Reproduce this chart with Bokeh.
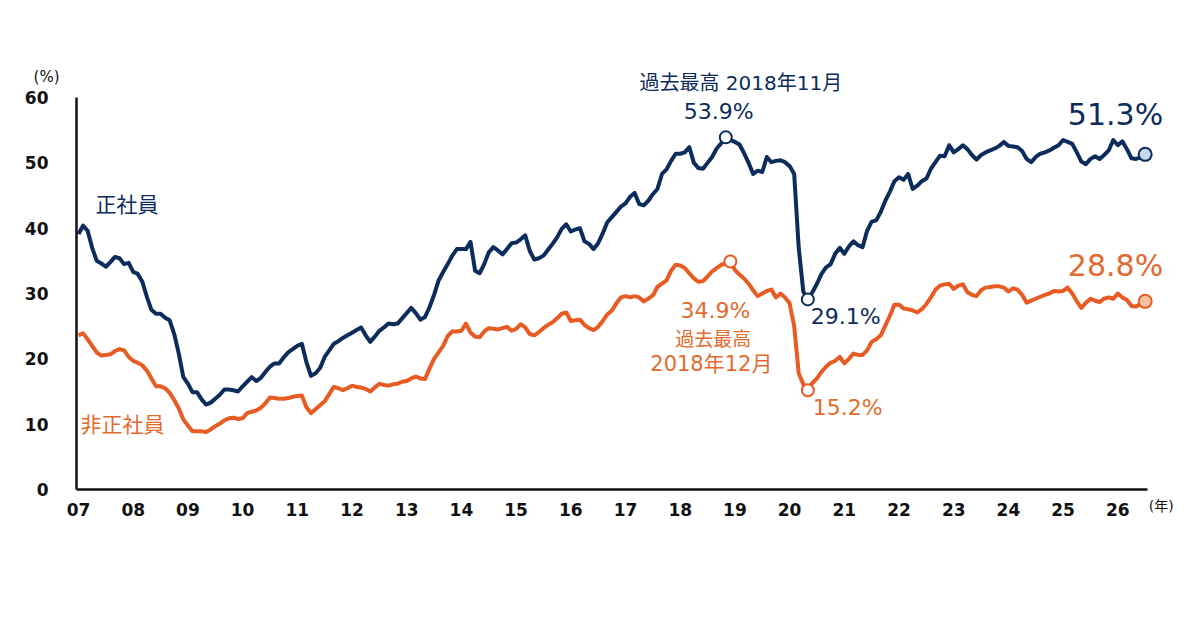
import numpy as np
from bokeh.plotting import figure
from bokeh.models import Range1d, FixedTicker, Label, ColumnDataSource
from bokeh.embed import file_html
from bokeh.resources import INLINE

# ---------------- data (monthly, 2007-01 .. 2026-07) ----------------
start_year = 2007
regular = [
    39.1, 40.4, 39.6, 37.0, 35.0, 34.6, 34.1, 34.8, 35.6, 35.4, 34.5, 34.7,  # 2007
    33.3, 33.0, 31.8, 29.5, 27.5, 26.9, 26.9, 26.3, 25.9, 23.8, 20.8, 17.2,  # 2008
    16.2, 14.9, 14.9, 13.8, 13.0, 13.3, 13.9, 14.5, 15.3, 15.3, 15.2, 15.0,  # 2009
    15.8, 16.5, 17.2, 16.6, 17.1, 18.0, 18.8, 19.3, 19.3, 20.2, 21.0, 21.5,  # 2010
    22.0, 22.3, 19.5, 17.4, 17.8, 18.6, 20.3, 21.3, 22.3, 22.7, 23.2, 23.6,  # 2011
    24.0, 24.4, 24.8, 23.6, 22.6, 23.4, 24.3, 24.8, 25.4, 25.3, 25.4, 26.2,  # 2012
    27.0, 27.8, 27.0, 26.0, 26.4, 27.9, 29.8, 32.0, 33.3, 34.5, 35.8, 36.8,  # 2013
    36.8, 36.8, 37.9, 33.5, 33.1, 34.5, 36.3, 37.1, 36.6, 36.0, 36.8, 37.7,  # 2014
    37.8, 38.3, 38.9, 36.5, 35.2, 35.4, 35.8, 36.7, 37.6, 38.6, 39.9, 40.6,  # 2015
    39.5, 39.8, 40.0, 38.0, 37.6, 36.8, 37.7, 39.2, 40.9, 41.7, 42.5, 43.3,  # 2016
    43.8, 44.8, 45.4, 43.7, 43.5, 44.2, 45.2, 46.0, 48.3, 49.0, 50.3, 51.4,  # 2017
    51.4, 51.6, 52.4, 50.0, 49.2, 49.1, 50.0, 50.9, 52.2, 53.0, 53.9, 53.5,  # 2018
    53.2, 52.8, 51.5, 50.0, 48.3, 48.8, 48.6, 50.9, 50.1, 50.3, 50.4, 50.1,  # 2019
    49.5, 48.3, 37.0, 30.3, 29.1, 30.2, 31.5, 33.0, 34.0, 34.5, 36.1, 37.0,  # 2020
    36.1, 37.2, 38.0, 37.4, 37.1, 39.6, 41.0, 41.2, 42.5, 44.2, 45.6, 47.2,  # 2021
    47.8, 47.4, 48.3, 46.0, 46.5, 47.2, 47.6, 49.1, 50.1, 51.1, 51.0, 52.7,  # 2022
    51.6, 52.1, 52.7, 52.1, 51.2, 50.5, 51.2, 51.6, 51.9, 52.2, 52.6, 53.2,  # 2023
    52.6, 52.5, 52.4, 51.8, 50.6, 50.1, 50.9, 51.4, 51.6, 51.9, 52.3, 52.7,  # 2024
    53.5, 53.2, 52.9, 51.6, 50.2, 49.8, 50.6, 51.0, 50.6, 51.2, 51.9, 53.5,  # 2025
    52.7, 53.3, 52.1, 50.7, 50.6, 50.8, 51.3,                                # 2026
]
nonregular = [
    23.6, 23.9, 23.0, 22.0, 21.0, 20.5, 20.6, 20.7, 21.2, 21.5, 21.3, 20.3,  # 2007
    19.7, 19.4, 19.0, 18.2, 17.0, 15.8, 15.8, 15.5, 14.8, 13.7, 12.4, 10.7,  # 2008
    9.8, 8.9, 8.9, 8.9, 8.8, 9.2, 9.7, 10.1, 10.6, 10.9, 11.0, 10.8,         # 2009
    10.9, 11.7, 11.9, 12.1, 12.5, 13.2, 14.1, 14.0, 13.9, 13.9, 14.0, 14.2,  # 2010
    14.3, 14.4, 12.6, 11.7, 12.3, 12.9, 13.5, 14.6, 15.7, 15.5, 15.2, 15.5,  # 2011
    15.9, 15.7, 15.6, 15.4, 15.0, 15.6, 16.2, 16.0, 15.9, 16.1, 16.2, 16.5,  # 2012
    16.6, 17.0, 17.3, 17.0, 16.9, 18.5, 20.0, 21.0, 22.0, 23.5, 24.2, 24.2,  # 2013
    24.3, 25.4, 24.0, 23.4, 23.3, 24.2, 24.7, 24.6, 24.5, 24.7, 24.9, 24.3,  # 2014
    24.6, 25.3, 24.8, 23.8, 23.6, 24.1, 24.7, 25.2, 25.6, 26.2, 26.9, 27.1,  # 2015
    25.8, 25.9, 26.0, 25.2, 24.7, 24.4, 24.9, 25.8, 26.8, 27.4, 28.5, 29.4,  # 2016
    29.6, 29.4, 29.6, 29.4, 28.8, 29.2, 29.7, 31.0, 31.5, 32.0, 33.5, 34.4,  # 2017
    34.3, 33.9, 33.1, 32.3, 31.8, 31.9, 32.6, 33.4, 33.9, 34.4, 34.6, 34.9,  # 2018
    33.6, 32.9, 32.3, 31.5, 30.5, 29.6, 30.0, 30.4, 30.6, 29.4, 30.0, 29.4,  # 2019
    28.5, 25.0, 17.8, 16.1, 15.2, 16.3, 17.0, 18.0, 18.8, 19.4, 19.7, 20.3,  # 2020
    19.3, 20.0, 20.8, 20.6, 20.6, 21.3, 22.6, 23.0, 23.6, 25.1, 26.6, 28.3,  # 2021
    28.3, 27.7, 27.6, 27.4, 27.1, 27.6, 28.4, 29.4, 30.6, 31.2, 31.4, 31.5,  # 2022
    30.7, 31.2, 31.4, 30.2, 29.8, 29.6, 30.5, 30.9, 31.0, 31.1, 31.1, 30.9,  # 2023
    30.3, 30.8, 30.6, 29.8, 28.6, 28.9, 29.2, 29.5, 29.8, 30.0, 30.4, 30.3,  # 2024
    30.4, 30.9, 30.0, 28.8, 27.8, 28.6, 29.2, 28.9, 28.7, 29.2, 29.4, 29.2,  # 2025
    30.0, 29.4, 29.0, 28.1, 28.0, 28.4, 28.8,                                # 2026
]
year_ticks = list(range(2007, 2027))
year_labels = ["07", "08", "09", "10", "11", "12", "13", "14", "15", "16",
               "17", "18", "19", "20", "21", "22", "23", "24", "25", "26"]
y_ticks = [0, 10, 20, 30, 40, 50, 60]

reg_peak_value, reg_peak_text = 53.9, "過去最高 2018年11月"
non_peak_value, non_peak_text1, non_peak_text2 = 34.9, "過去最高", "2018年12月"
reg_trough_value, non_trough_value = 29.1, 15.2
reg_last_value, non_last_value = 51.3, 28.8
reg_name, non_name = "正社員", "非正社員"

# ---------------- styling ----------------
NAVY = "#0c2c5c"
ORANGE = "#e85b22"
ORANGE_TXT = "#e36a2e"
FONT = "'DejaVu Sans', 'Noto Sans CJK JP'"
FONT_JP = "'Noto Sans CJK JP'"

months = np.arange(len(regular))
x = start_year + months / 12.0
src = ColumnDataSource(dict(x=x, reg=regular, non=nonregular))

# axis extents (the frame covers the whole canvas; axes are pinned inside it)
x_axis_start, x_axis_end = 2006.963, 2026.543
y_axis_start, y_axis_end = y_ticks[0], y_ticks[-1]

p = figure(width=1184, height=614, output_backend="svg", toolbar_location=None,
           x_range=Range1d(2005.574, 2027.219), y_range=Range1d(-19.13, 74.85),
           min_border_left=0, min_border_right=0, min_border_top=0, min_border_bottom=0)
p.outline_line_color = None
p.xgrid.visible = False
p.ygrid.visible = False
p.background_fill_color = "white"
p.border_fill_color = "white"

for ax in (p.xaxis[0], p.yaxis[0]):
    ax.axis_line_color = "#111111"
    ax.axis_line_width = 2.5
    ax.major_tick_line_color = None
    ax.minor_tick_line_color = None
    ax.major_label_text_font = FONT
    ax.major_label_text_font_size = "17px"
    ax.major_label_text_font_style = "bold"
    ax.major_label_text_color = "#111111"

p.xaxis.ticker = FixedTicker(ticks=year_ticks)
p.xaxis.major_label_overrides = {t: l for t, l in zip(year_ticks, year_labels)}
p.xaxis.major_label_standoff = 7
p.xaxis.bounds = (x_axis_start, x_axis_end)
p.xaxis.fixed_location = y_axis_start
p.yaxis.ticker = FixedTicker(ticks=y_ticks)
p.yaxis.major_label_standoff = 22
p.yaxis.bounds = (y_axis_start, y_axis_end)
p.yaxis.fixed_location = x_axis_start

p.line("x", "reg", source=src, line_color=NAVY, line_width=4, line_join="round")
p.line("x", "non", source=src, line_color=ORANGE, line_width=4, line_join="round")

reg_arr = np.array(regular)
non_arr = np.array(nonregular)
i_rp = int(np.argmax(reg_arr))
i_np = int(np.argmax(non_arr))
i_rt = int(np.argmin(reg_arr[150:])) + 150
i_nt = int(np.argmin(non_arr[150:])) + 150
i_last = len(regular) - 1

# markers
p.scatter([x[i_rp], x[i_rt]], [reg_arr[i_rp], reg_arr[i_rt]], size=12,
          fill_color="white", line_color=NAVY, line_width=2)
p.scatter([x[i_np], x[i_nt]], [non_arr[i_np], non_arr[i_nt]], size=12,
          fill_color="white", line_color=ORANGE, line_width=2)
p.scatter([x[i_last]], [reg_arr[i_last]], size=13, fill_color="#c9d8ee", line_color=NAVY, line_width=2)
p.scatter([x[i_last]], [non_arr[i_last]], size=13, fill_color="#f6c29f", line_color=ORANGE, line_width=2)


def lab(xv, yv, text, dx, dy, color, size, align="center", font=FONT):
    p.add_layout(Label(x=xv, y=yv, text=text, x_offset=dx, y_offset=dy,
                       text_align=align, text_baseline="middle",
                       text_font=font, text_font_size=size, text_color=color))


# peak annotations
lab(x[i_rp], reg_arr[i_rp], reg_peak_text, 15, 54, NAVY, "20px")
lab(x[i_rp], reg_arr[i_rp], f"{reg_peak_value}%", -7, 26, NAVY, "22px")
lab(x[i_np], non_arr[i_np], f"{non_peak_value}%", -15, -49, ORANGE_TXT, "22px")
lab(x[i_np], non_arr[i_np], non_peak_text1, -17, -77, ORANGE_TXT, "19px")
lab(x[i_np], non_arr[i_np], non_peak_text2, -19, -102, ORANGE_TXT, "21px")
# trough annotations
lab(x[i_rt], reg_arr[i_rt], f"{reg_trough_value}%", 3, -17, NAVY, "22px", "left")
lab(x[i_nt], non_arr[i_nt], f"{non_trough_value}%", 5, -17, ORANGE_TXT, "22px", "left")
# latest values
lab(x[i_last], reg_arr[i_last], f"{reg_last_value}%", 18, 40, NAVY, "30px", "right")
lab(x[i_last], non_arr[i_last], f"{non_last_value}%", 18, 36, ORANGE_TXT, "30px", "right")
# series names
lab(x[0], reg_arr[0], reg_name, 17, 31, NAVY, "21px", "left", FONT_JP)
lab(x[0], non_arr[0], non_name, 2, -88, ORANGE_TXT, "21px", "left", FONT_JP)
# unit labels
lab(x[0], y_ticks[-1], "(%)", -32, 21, "#111111", "15px")
lab(x[i_last], y_ticks[0], "(年)", 16, -16, "#111111", "14px")

open("out.html", "w").write(file_html(p, INLINE))
